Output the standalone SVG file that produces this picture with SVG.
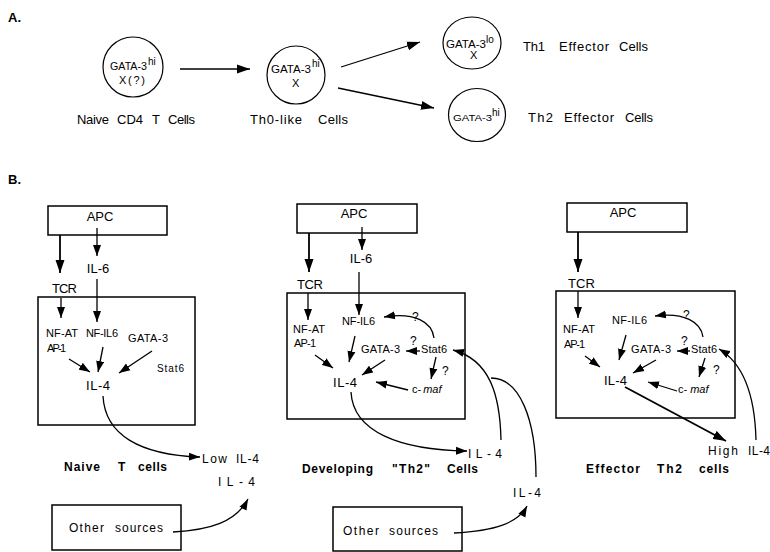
<svg xmlns="http://www.w3.org/2000/svg" width="770" height="552" viewBox="0 0 770 552">
<style>
text{font-family:"Liberation Sans",Arial,sans-serif;fill:#000}
.b{font-weight:bold}
.bx{fill:none;stroke:#000;stroke-width:1.5}
.c{fill:none;stroke:#000;stroke-width:1.2}
.ln{fill:none;stroke:#000;stroke-width:1.3}
.tk{fill:none;stroke:#000;stroke-width:1.8}
.f13{font-size:13px}
.f12{font-size:12px}
.f11{font-size:11px}
.f10{font-size:10px}
.f9{font-size:9px}
</style>
<defs>
<marker id="ah" markerUnits="userSpaceOnUse" markerWidth="11" markerHeight="9" refX="11" refY="4.5" orient="auto"><path d="M0,0.5 L11,4.5 L0,8.5 z" fill="#000"/></marker>
<marker id="ahL" markerUnits="userSpaceOnUse" markerWidth="13" markerHeight="10" refX="13" refY="5" orient="auto"><path d="M0,0.5 L13,5 L0,9.5 z" fill="#000"/></marker>
</defs>
<rect width="770" height="552" fill="#fff"/>

<text class="b f13" x="8" y="22">A.</text>
<text class="b f13" x="8" y="184">B.</text>

<!-- Panel A nodes -->
<g id="naive-cd4">
<ellipse class="c" cx="133" cy="67" rx="30" ry="30"/>
<text class="f10" x="110" y="70" textLength="37" lengthAdjust="spacingAndGlyphs">GATA-3</text>
<text class="f10" x="148" y="65">hi</text>
<text class="f11" x="119" y="84" textLength="26" lengthAdjust="spacing">X(?)</text>
<text class="f13" y="124"><tspan x="77" textLength="32">Naive</tspan><tspan x="117" textLength="26">CD4</tspan><tspan x="152">T</tspan><tspan x="168" textLength="27">Cells</tspan></text>
</g>
<g id="th0">
<ellipse class="c" cx="296" cy="75" rx="29" ry="29"/>
<text class="f10" x="271" y="73" textLength="40" lengthAdjust="spacingAndGlyphs">GATA-3</text>
<text class="f10" x="312" y="67">hi</text>
<text class="f11" x="292" y="87">X</text>
<text class="f13" y="124"><tspan x="250" textLength="52">Th0-like</tspan><tspan x="318" textLength="30">Cells</tspan></text>
</g>
<g id="th1">
<ellipse class="c" cx="472" cy="43" rx="29" ry="26"/>
<text class="f10" x="446" y="48" textLength="40" lengthAdjust="spacingAndGlyphs">GATA-3</text>
<text class="f10" x="486" y="43">lo</text>
<text class="f11" x="470" y="59">X</text>
<text class="f13" y="51"><tspan x="523" textLength="22">Th1</tspan><tspan x="559" textLength="50">Effector</tspan><tspan x="619" textLength="29">Cells</tspan></text>
</g>
<g id="th2">
<ellipse class="c" cx="477" cy="115" rx="28.5" ry="26.5"/>
<text class="f9" x="453" y="121" textLength="39" lengthAdjust="spacingAndGlyphs">GATA-3</text>
<text class="f10" x="492" y="116">hi</text>
<text class="f13" y="122"><tspan x="528" textLength="25">Th2</tspan><tspan x="564" textLength="50">Effector</tspan><tspan x="625" textLength="28">Cells</tspan></text>
</g>

<!-- Panel B left -->
<g id="apc-1"><rect class="bx" x="48" y="206" width="119" height="29"/><text class="f13" x="100" y="221" text-anchor="middle">APC</text></g>
<g id="il6-1"><text class="f13" x="98" y="273" text-anchor="middle">IL-6</text></g>
<g id="tcr-1"><text class="f13" x="52" y="293" textLength="25">TCR</text></g>
<g id="cell-1">
<rect class="bx" x="38" y="297" width="157" height="128"/>
<text class="f11" x="46" y="337" textLength="32">NF-AT</text>
<text class="f11" x="86" y="337" textLength="32">NF-IL6</text>
<text class="f11" x="128" y="342" textLength="40">GATA-3</text>
<text class="f11" x="47" y="352" textLength="19">AP-1</text>
<text class="f10" x="157" y="372" textLength="27">Stat6</text>
<text class="f13" x="86" y="390" textLength="24">IL-4</text>
</g>
<g id="low-il4"><text class="f12" y="463"><tspan x="202" textLength="25">Low</tspan><tspan x="236" textLength="23">IL-4</tspan></text></g>
<g id="il4-1b"><text class="f12" x="218" y="486" textLength="37" lengthAdjust="spacing">IL-4</text></g>
<g id="label-1"><text class="b f12" y="471"><tspan x="64" textLength="36">Naive</tspan><tspan x="118">T</tspan><tspan x="138" textLength="29">cells</tspan></text></g>
<g id="other-1"><rect class="bx" x="52" y="505" width="129" height="45"/><text class="f12" y="532"><tspan x="69" textLength="35">Other</tspan><tspan x="115" textLength="48">sources</tspan></text></g>

<!-- Panel B middle -->
<g id="apc-2"><rect class="bx" x="297" y="204" width="120" height="29"/><text class="f13" x="354" y="218" text-anchor="middle">APC</text></g>
<g id="il6-2"><text class="f13" x="361" y="263" text-anchor="middle">IL-6</text></g>
<g id="tcr-2"><text class="f13" x="297" y="289" textLength="26">TCR</text></g>
<g id="cell-2">
<rect class="bx" x="287" y="293" width="178" height="126"/>
<text class="f11" x="293" y="333" textLength="32">NF-AT</text>
<text class="f11" x="294" y="347" textLength="22">AP-1</text>
<text class="f11" x="342" y="325" textLength="33">NF-IL6</text>
<text class="f11" x="361" y="353" textLength="39">GATA-3</text>
<text class="f11" x="421" y="353" textLength="26">Stat6</text>
<text class="f12" x="410" y="345">?</text>
<text class="f12" x="412" y="321">?</text>
<text class="f12" x="442" y="375">?</text>
<text class="f11" x="412" y="393">c-<tspan font-style="italic" dx="2">maf</tspan></text>
<text class="f13" x="333" y="387" textLength="24">IL-4</text>
</g>
<g id="il4-2a"><text class="f12" x="468" y="458" textLength="34" lengthAdjust="spacing">IL-4</text></g>
<g id="il4-2b"><text class="f12" x="513" y="497" textLength="28" lengthAdjust="spacing">IL-4</text></g>
<g id="label-2"><text class="b f12" y="473"><tspan x="302" textLength="71">Developing</tspan><tspan x="392" textLength="38">"Th2"</tspan><tspan x="447" textLength="31">Cells</tspan></text></g>
<g id="other-2"><rect class="bx" x="333" y="507" width="129" height="44"/><text class="f12" y="535"><tspan x="343" textLength="36">Other</tspan><tspan x="389" textLength="49">sources</tspan></text></g>

<!-- Panel B right -->
<g id="apc-3"><rect class="bx" x="567" y="203" width="120" height="29"/><text class="f13" x="623" y="217" text-anchor="middle">APC</text></g>
<g id="tcr-3"><text class="f13" x="568" y="288" textLength="27">TCR</text></g>
<g id="cell-3">
<rect class="bx" x="556" y="291" width="179" height="127"/>
<text class="f11" x="563" y="333" textLength="32">NF-AT</text>
<text class="f11" x="564" y="348" textLength="21">AP-1</text>
<text class="f11" x="612" y="324" textLength="35">NF-IL6</text>
<text class="f11" x="631" y="353" textLength="40">GATA-3</text>
<text class="f11" x="691" y="353" textLength="26">Stat6</text>
<text class="f12" x="681" y="345">?</text>
<text class="f12" x="683" y="319">?</text>
<text class="f12" x="713" y="374">?</text>
<text class="f11" x="678" y="393">c-<tspan font-style="italic" dx="3">maf</tspan></text>
<text class="f13" x="604" y="385" textLength="23">IL-4</text>
</g>
<g id="high-il4"><text class="f12" x="708" y="455" textLength="30">High</text><text class="f12" x="748" y="455" textLength="22">IL-4</text></g>
<g id="label-3"><text class="b f12" y="473"><tspan x="586" textLength="54">Effector</tspan><tspan x="657" textLength="25">Th2</tspan><tspan x="699" textLength="30">cells</tspan></text></g>

<g id="connectors">
<!-- Panel A -->
<path class="ln" d="M180,69 L250,69" marker-end="url(#ahL)"/>
<path class="ln" d="M341,67 L420,42" marker-end="url(#ahL)"/>
<path class="ln" d="M338,88 L434,108" marker-end="url(#ahL)"/>
<!-- Left -->
<path class="tk" d="M60,235 L60,273" marker-end="url(#ahL)"/>
<path class="ln" d="M97,228 L97,256" marker-end="url(#ah)"/>
<path class="ln" d="M97,279 L97,322" marker-end="url(#ah)"/>
<path class="ln" d="M61,298 L61,318" marker-end="url(#ah)"/>
<path class="ln" d="M69,359 L90,372" marker-end="url(#ah)"/>
<path class="ln" d="M103,347 L98,372" marker-end="url(#ah)"/>
<path class="ln" d="M152,351 L119,373" marker-end="url(#ah)"/>
<path class="ln" d="M103,396 C105,435 140,455 200,457" marker-end="url(#ah)"/>
<path class="ln" d="M173,532 C210,530 236,522 248,499" marker-end="url(#ah)"/>
<!-- Middle -->
<path class="tk" d="M309,233 L309,272" marker-end="url(#ahL)"/>
<path class="ln" d="M362,227 L362,250" marker-end="url(#ah)"/>
<path class="ln" d="M359,272 L359,315" marker-end="url(#ah)"/>
<path class="ln" d="M308,293 L308,320" marker-end="url(#ah)"/>
<path class="ln" d="M315,355 L333,368" marker-end="url(#ah)"/>
<path class="ln" d="M355,336 L349,362" marker-end="url(#ah)"/>
<path class="ln" d="M385,360 L362,375" marker-end="url(#ah)"/>
<path class="ln" d="M420,351 L406,351" marker-end="url(#ah)"/>
<path class="ln" d="M434,338 C432,322 415,312 384,317" marker-end="url(#ah)"/>
<path class="ln" d="M436,357 L431,379" marker-end="url(#ah)"/>
<path class="ln" d="M408,390 L376,382" marker-end="url(#ah)"/>
<path class="ln" d="M351,392 C353,432 400,450 467,451" marker-end="url(#ah)"/>
<path class="ln" d="M501,440 C500,395 490,360 453,350" marker-end="url(#ah)"/>
<path class="ln" d="M536,477 C536,420 520,378 491,378"/>
<path class="ln" d="M454,533 C495,531 518,523 527,506" marker-end="url(#ah)"/>
<!-- Right -->
<path class="tk" d="M578,232 L578,272" marker-end="url(#ahL)"/>
<path class="ln" d="M578,291 L578,318" marker-end="url(#ah)"/>
<path class="ln" d="M585,356 L600,367" marker-end="url(#ah)"/>
<path class="ln" d="M626,335 L619,360" marker-end="url(#ah)"/>
<path class="ln" d="M656,360 L633,373" marker-end="url(#ah)"/>
<path class="ln" d="M690,351 L677,351" marker-end="url(#ah)"/>
<path class="ln" d="M703,337 C701,322 684,312 655,316" marker-end="url(#ah)"/>
<path class="ln" d="M705,358 L699,377" marker-end="url(#ah)"/>
<path class="ln" d="M677,391 L648,382" marker-end="url(#ah)"/>
<path class="tk" d="M625,387 L726,441" marker-end="url(#ahL)"/>
<path class="ln" d="M756,440 C755,400 746,365 719,349" marker-end="url(#ah)"/>
</g>
</svg>
